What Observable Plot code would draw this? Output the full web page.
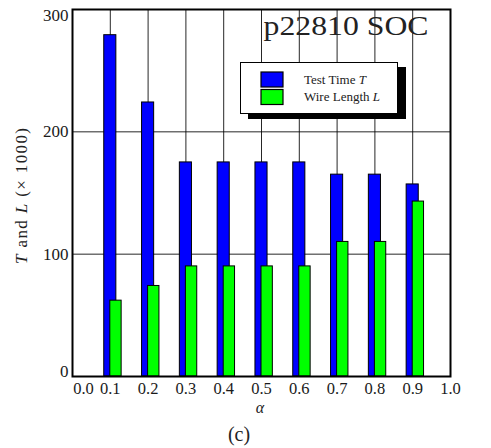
<!DOCTYPE html>
<html>
<head>
<meta charset="utf-8">
<script src="https://cdn.jsdelivr.net/npm/d3@7"></script>
<script src="https://cdn.jsdelivr.net/npm/@observablehq/plot@0.6"></script>
<style>
  html, body { margin: 0; padding: 0; background: white; }
  #chart { width: 491px; height: 448px; }
  #chart svg, #chart svg text { font-family: "Liberation Serif", "Times New Roman", serif; }
</style>
</head>
<body>
<div id="chart"></div>
<script>
const alphas = [0.1, 0.2, 0.3, 0.4, 0.5, 0.6, 0.7, 0.8, 0.9];
const testTime = [279, 224, 175, 175, 175, 175, 165, 165, 157];
const wireLength = [62, 74, 90, 90, 90, 90, 110, 110, 143];
const xTicks = [0.0, 0.1, 0.2, 0.3, 0.4, 0.5, 0.6, 0.7, 0.8, 0.9, 1.0];
const yTicks = [0, 100, 200, 300];
const seriesNames = ["Test Time", "Wire Length"];
const seriesSymbols = ["T", "L"];
const seriesColors = ["#0000ff", "#00ff00"];
const title = "p22810 SOC";
const caption = "(c)";

const rows = alphas.map((a, i) => ({a, t: testTime[i], l: wireLength[i]}));
const hw = 0.016;
const font = "'Liberation Serif', 'Times New Roman', serif";
const fmt = d3.format(".1f");
const ink = "#1a1a1a";

const plot = Plot.plot({
  width: 491,
  height: 448,
  marginLeft: 72,
  marginRight: 41,
  marginTop: 9,
  marginBottom: 72,
  style: {fontFamily: font, background: "white", color: ink},
  x: {domain: [0, 1]},
  y: {domain: [0, 300]},
  marks: [
    Plot.gridX(alphas, {stroke: "black", strokeOpacity: 0.85, strokeWidth: 1}),
    Plot.gridY(yTicks.slice(1, 3), {stroke: "black", strokeOpacity: 0.85, strokeWidth: 1}),
    Plot.rect(rows, {x1: d => d.a - hw, x2: d => d.a + hw, y1: 0, y2: "t", fill: seriesColors[0], stroke: "black", strokeWidth: 1}),
    Plot.rect(rows, {x1: d => d.a, x2: d => d.a + 2 * hw - 0.002, y1: 0, y2: "l", fill: seriesColors[1], stroke: "black", strokeWidth: 1}),
    Plot.frame({stroke: "black", strokeWidth: 2}),
    Plot.axisX(xTicks.slice(1), {tickSize: 0, tickPadding: 6, tickFormat: fmt, fontSize: 16.5, label: null}),
    Plot.axisX([xTicks[0]], {tickSize: 0, tickPadding: 6, tickFormat: fmt, fontSize: 16.5, dx: 11, label: null}),
    Plot.axisY(yTicks.slice(1, 3), {tickSize: 0, tickPadding: 4, fontSize: 17, label: null}),
    Plot.axisY([yTicks[0]], {tickSize: 0, tickPadding: 4, fontSize: 17, dy: -5, label: null}),
    Plot.axisY([yTicks[3]], {tickSize: 0, tickPadding: 4, fontSize: 17, dy: 6, label: null}),
    Plot.text([title], {frameAnchor: "top-right", dx: -22, dy: 6, fontSize: 28, lineAnchor: "top", textAnchor: "end", fill: "#222"})
  ]
});

const svg = d3.select(plot);
svg.selectAll("text").filter(function() { return this.textContent === title; })
  .attr("textLength", 165).attr("lengthAdjust", "spacingAndGlyphs");

// Legend
const lg = svg.append("g").attr("font-family", font).attr("text-anchor", "start");
lg.append("rect").attr("x", 248).attr("y", 67).attr("width", 158).attr("height", 52).attr("fill", "black");
lg.append("rect").attr("x", 240.5).attr("y", 62.5).attr("width", 157).attr("height", 51).attr("fill", "white").attr("stroke", "black").attr("stroke-width", 1);
seriesNames.forEach((name, i) => {
  const y0 = 72 + i * 17.5;
  lg.append("rect").attr("x", 261).attr("y", y0).attr("width", 22).attr("height", 15)
    .attr("fill", seriesColors[i]).attr("stroke", "black").attr("stroke-width", 1.2);
  const t = lg.append("text").attr("x", 304).attr("y", y0 + 11.5).attr("font-size", 13)
    .attr("text-anchor", "start").attr("fill", "#222");
  t.append("tspan").text(name + " ");
  t.append("tspan").attr("font-style", "italic").text(seriesSymbols[i]);
});

// Y axis label
const yl = svg.append("text").attr("transform", "translate(27,196) rotate(-90)")
  .attr("text-anchor", "middle").attr("font-family", font).attr("font-size", 17).attr("fill", "#222")
  .attr("textLength", 136).attr("lengthAdjust", "spacing");
yl.append("tspan").attr("font-style", "italic").text(seriesSymbols[0]);
yl.append("tspan").text(" and ");
yl.append("tspan").attr("font-style", "italic").text(seriesSymbols[1]);
yl.append("tspan").text(" (× 1000)");

// X axis label
svg.append("text").attr("x", 260).attr("y", 413).attr("text-anchor", "middle")
  .attr("font-family", font).attr("font-size", 16).attr("font-style", "italic").attr("fill", "#222").text("α");

// Caption
svg.append("text").attr("x", 239).attr("y", 441).attr("text-anchor", "middle")
  .attr("font-family", font).attr("font-size", 20).attr("fill", "#222").text(caption);

document.getElementById("chart").appendChild(plot);
</script>
</body>
</html>
